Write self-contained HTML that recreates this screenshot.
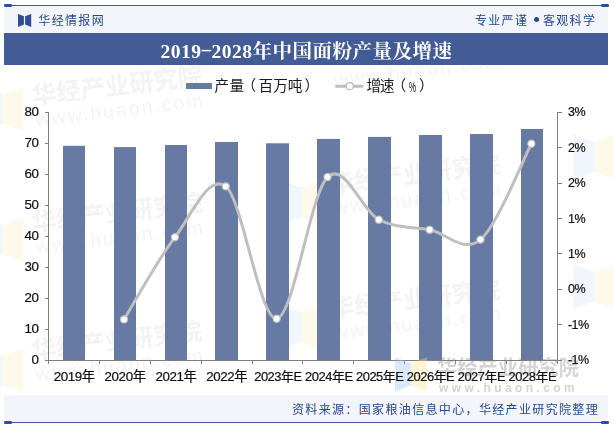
<!DOCTYPE html>
<html lang="zh"><head><meta charset="utf-8"><title>2019-2028年中国面粉产量及增速</title>
<style>
html,body{margin:0;padding:0;background:#fff}
body{width:614px;height:428px;position:relative;overflow:hidden;font-family:"Liberation Sans","Noto Sans CJK SC",sans-serif}
.abs{position:absolute}
.hdr{left:4px;top:5px;width:604px;height:28px;background:#f4f5fa}
.topline{left:4px;top:5px;width:605px;height:1px;background:#3f5a96}
.blk{width:8px;height:3px;background:#2f4f93;border-radius:1.2px}
.dash{display:inline-block;width:10px;text-align:center;font-weight:normal;position:relative;top:-3.5px;transform:scaleX(1.9)}
.title{left:4px;top:33px;width:604px;height:32px;background:#435c95;color:#fff;text-align:center;overflow:hidden;text-indent:1px;letter-spacing:0.5px;font:bold 19.5px/38.4px "Liberation Serif","Noto Serif CJK SC",serif;white-space:nowrap}
.brand{left:38.3px;top:11.2px;font-size:12px;line-height:20px;color:#27478d;letter-spacing:1.35px;white-space:nowrap}
.slogan.bul{font-size:19px !important;letter-spacing:0 !important;width:11px;text-align:center;top:10.1px !important}
.slogan{top:10.5px;font-size:12px;line-height:20px;color:#27478d;letter-spacing:1.3px;white-space:nowrap}
.ftr{left:4px;top:395px;width:604px;height:27px;background:#f4f5fa}
.src{left:292px;top:400.1px;font-size:12px;line-height:20px;color:#27478d;letter-spacing:1.35px;white-space:nowrap}
.yl{position:absolute;left:8px;width:30.5px;text-align:right;letter-spacing:-0.4px;font-size:13.33px;line-height:16px;color:#111;-webkit-text-stroke:0.22px #111}
.rl{position:absolute;left:568px;transform:scaleX(0.94);transform-origin:left center;letter-spacing:-0.6px;font-size:13.33px;line-height:16px;color:#111;-webkit-text-stroke:0.22px #111;white-space:nowrap}
.xl{position:absolute;top:368.8px;width:60px;text-align:center;letter-spacing:-0.4px;font-size:13.33px;line-height:16px;color:#111;-webkit-text-stroke:0.22px #111;white-space:nowrap}
.lgw{position:absolute;left:0;top:76.4px;height:20px}
.g{position:absolute;top:0;font-size:14.67px;line-height:20px;color:#1a1a1a;white-space:nowrap}
.pc{display:inline-block;transform:scaleX(0.57);top:0.6px}
.wm{position:absolute;color:#f1f1f1;font-weight:bold;white-space:nowrap;transform:rotate(-10deg);transform-origin:left top}
.wm2{position:absolute;color:#d4d4d4;font-weight:bold;white-space:nowrap}
</style></head><body><div id="root" style="position:absolute;left:0;top:0;width:614px;height:428px;will-change:transform">
<div class="abs hdr"></div>
<div class="abs topline"></div>
<div class="abs blk" style="left:4px;top:4px"></div>
<div class="abs blk" style="left:601px;top:4px"></div>
<svg class="abs" style="left:0;top:0" width="60" height="34" viewBox="0 0 60 34"><path d="M18,13.9 L23.9,16.3 V24.4 L18,27 Z M31.2,13.9 L25.1,16.3 V24.4 L31.2,27 Z" fill="#2e4d92"/></svg>
<div class="abs brand">华经情报网</div>
<div class="abs slogan" style="left:475px">专业严谨</div><div class="abs slogan bul" style="left:531px">•</div><div class="abs slogan" style="left:543px">客观科学</div>
<div class="abs title">2019<span class="dash">-</span>2028年中国面粉产量及增速</div>
<div class="wm2" style="left:437px;top:355px;font-size:20.3px;line-height:26px">华经产业研究院</div>
<div class="wm2" style="left:439px;top:380.7px;font-size:12px;line-height:14px;letter-spacing:3.4px">www.huaon.com</div>
<svg width="614" height="428" viewBox="0 0 614 428" style="position:absolute;left:0;top:0">
<defs><clipPath id="cp"><rect x="0" y="66" width="614" height="328"/></clipPath></defs><g clip-path="url(#cp)">
<g transform="translate(31.8,95.7) rotate(-6.7)" fill="#f3f3f3" font-family="Liberation Sans, Noto Sans CJK SC, sans-serif"><text x="0" y="8.6" font-size="24.5" font-weight="bold">华经产业研究院</text><text x="1" y="31" font-size="19.5" textLength="168" fill="#f4f4f4">www.huaon.com</text></g>
<g transform="translate(31.8,222.7) rotate(-6.7)" fill="#f3f3f3" font-family="Liberation Sans, Noto Sans CJK SC, sans-serif"><text x="0" y="8.6" font-size="24.5" font-weight="bold">华经产业研究院</text><text x="1" y="31" font-size="19.5" textLength="168" fill="#f4f4f4">www.huaon.com</text></g>
<g transform="translate(31.8,350.8) rotate(-6.7)" fill="#f3f3f3" font-family="Liberation Sans, Noto Sans CJK SC, sans-serif"><text x="0" y="8.6" font-size="24.5" font-weight="bold">华经产业研究院</text><text x="1" y="31" font-size="19.5" textLength="168" fill="#f4f4f4">www.huaon.com</text></g>
<g transform="translate(330.0,56.0) rotate(-6.7)" fill="#f3f3f3" font-family="Liberation Sans, Noto Sans CJK SC, sans-serif"><text x="0" y="8.6" font-size="24.5" font-weight="bold">华经产业研究院</text><text x="1" y="31" font-size="19.5" textLength="168" fill="#f4f4f4">www.huaon.com</text></g>
<g transform="translate(330.0,184.0) rotate(-6.7)" fill="#f3f3f3" font-family="Liberation Sans, Noto Sans CJK SC, sans-serif"><text x="0" y="8.6" font-size="24.5" font-weight="bold">华经产业研究院</text><text x="1" y="31" font-size="19.5" textLength="168" fill="#f4f4f4">www.huaon.com</text></g>
<g transform="translate(330.0,309.0) rotate(-6.7)" fill="#f3f3f3" font-family="Liberation Sans, Noto Sans CJK SC, sans-serif"><text x="0" y="8.6" font-size="24.5" font-weight="bold">华经产业研究院</text><text x="1" y="31" font-size="19.5" textLength="168" fill="#f4f4f4">www.huaon.com</text></g>
<path d="M-18.5,87.0 l21,7.5 v29.5 l-21,7.5 Z" fill="#dbe8fb" fill-opacity="0.38"/><path d="M23.5,87.0 l-21,7.5 v29.5 l21,7.5 Z" fill="#fef6d8" fill-opacity="0.5"/>
<path d="M-18.5,217.5 l21,7.5 v29.5 l-21,7.5 Z" fill="#dbe8fb" fill-opacity="0.38"/><path d="M23.5,217.5 l-21,7.5 v29.5 l21,7.5 Z" fill="#fef6d8" fill-opacity="0.5"/>
<path d="M-18.5,348.0 l21,7.5 v29.5 l-21,7.5 Z" fill="#dbe8fb" fill-opacity="0.38"/><path d="M23.5,348.0 l-21,7.5 v29.5 l21,7.5 Z" fill="#fef6d8" fill-opacity="0.5"/>
<path d="M280.0,180.0 l21,7.5 v29.5 l-21,7.5 Z" fill="#dbe8fb" fill-opacity="0.38"/><path d="M322.0,180.0 l-21,7.5 v29.5 l21,7.5 Z" fill="#fef6d8" fill-opacity="0.5"/>
<path d="M280.0,305.0 l21,7.5 v29.5 l-21,7.5 Z" fill="#dbe8fb" fill-opacity="0.38"/><path d="M322.0,305.0 l-21,7.5 v29.5 l21,7.5 Z" fill="#fef6d8" fill-opacity="0.5"/>
<path d="M573.7,134.5 l21,7.5 v29.5 l-21,7.5 Z" fill="#dbe8fb" fill-opacity="0.38"/><path d="M615.7,134.5 l-21,7.5 v29.5 l21,7.5 Z" fill="#fef6d8" fill-opacity="0.5"/>
<path d="M573.7,264.6 l21,7.5 v29.5 l-21,7.5 Z" fill="#dbe8fb" fill-opacity="0.38"/><path d="M615.7,264.6 l-21,7.5 v29.5 l21,7.5 Z" fill="#fef6d8" fill-opacity="0.5"/>
</g>
<rect x="63" y="145.80" width="22" height="214.20" fill="#667aa3"/>
<rect x="114" y="147.10" width="22" height="212.90" fill="#667aa3"/>
<rect x="165" y="145.00" width="22" height="215.00" fill="#667aa3"/>
<rect x="215" y="142.00" width="23" height="218.00" fill="#667aa3"/>
<rect x="266" y="143.30" width="23" height="216.70" fill="#667aa3"/>
<rect x="317" y="138.90" width="23" height="221.10" fill="#667aa3"/>
<rect x="368" y="136.90" width="23" height="223.10" fill="#667aa3"/>
<rect x="419" y="135.00" width="23" height="225.00" fill="#667aa3"/>
<rect x="470" y="134.00" width="23" height="226.00" fill="#667aa3"/>
<rect x="521" y="129.00" width="22" height="231.00" fill="#667aa3"/>
<g stroke="#7f7f7f" stroke-width="1" fill="none" shape-rendering="crispEdges">
<path d="M48.5,112.0 V360.5"/>
<path d="M557.5,112.0 V360.5"/>
<path d="M48.0,360.5 H557.5"/>
<path d="M44.5,112.5 H48.5"/>
<path d="M44.5,143.5 H48.5"/>
<path d="M44.5,174.5 H48.5"/>
<path d="M44.5,205.5 H48.5"/>
<path d="M44.5,236.5 H48.5"/>
<path d="M44.5,267.5 H48.5"/>
<path d="M44.5,298.5 H48.5"/>
<path d="M44.5,329.5 H48.5"/>
<path d="M44.5,360.5 H48.5"/>
<path d="M557.5,112.5 H561.5"/>
<path d="M557.5,147.5 H561.5"/>
<path d="M557.5,183.5 H561.5"/>
<path d="M557.5,218.5 H561.5"/>
<path d="M557.5,253.5 H561.5"/>
<path d="M557.5,289.5 H561.5"/>
<path d="M557.5,324.5 H561.5"/>
<path d="M557.5,360.5 H561.5"/>
<path d="M48.5,360.5 V363.5"/>
<path d="M99.5,360.5 V363.5"/>
<path d="M150.5,360.5 V363.5"/>
<path d="M201.5,360.5 V363.5"/>
<path d="M252.5,360.5 V363.5"/>
<path d="M302.5,360.5 V363.5"/>
<path d="M353.5,360.5 V363.5"/>
<path d="M404.5,360.5 V363.5"/>
<path d="M455.5,360.5 V363.5"/>
<path d="M506.5,360.5 V363.5"/>
<path d="M557.5,360.5 V363.5"/>
</g>
<path d="M124.00,319.40 C132.48,305.72 157.92,259.47 174.87,237.30 C191.83,215.13 208.79,172.83 225.74,186.40 C242.70,199.97 259.66,320.25 276.62,318.70 C293.57,317.15 310.46,193.60 327.49,177.10 C344.51,160.60 361.73,210.92 378.75,219.70 C395.78,228.48 412.67,226.48 429.62,229.80 C446.58,233.12 463.54,253.95 480.49,239.60 C497.45,225.25 522.89,159.68 531.36,143.70" fill="none" stroke="#bfbfbf" stroke-width="3" stroke-linecap="round" stroke-linejoin="round"/>
<circle cx="124.00" cy="319.40" r="3.6" fill="#fff" stroke="#bdbdbd" stroke-width="1.2"/>
<circle cx="174.87" cy="237.30" r="3.6" fill="#fff" stroke="#bdbdbd" stroke-width="1.2"/>
<circle cx="225.74" cy="186.40" r="3.6" fill="#fff" stroke="#bdbdbd" stroke-width="1.2"/>
<circle cx="276.62" cy="318.70" r="3.6" fill="#fff" stroke="#bdbdbd" stroke-width="1.2"/>
<circle cx="327.49" cy="177.10" r="3.6" fill="#fff" stroke="#bdbdbd" stroke-width="1.2"/>
<circle cx="378.75" cy="219.70" r="3.6" fill="#fff" stroke="#bdbdbd" stroke-width="1.2"/>
<circle cx="429.62" cy="229.80" r="3.6" fill="#fff" stroke="#bdbdbd" stroke-width="1.2"/>
<circle cx="480.49" cy="239.60" r="3.6" fill="#fff" stroke="#bdbdbd" stroke-width="1.2"/>
<circle cx="531.36" cy="143.70" r="3.6" fill="#fff" stroke="#bdbdbd" stroke-width="1.2"/>
<rect x="186" y="83" width="26" height="6" fill="#667aa3"/>
<path d="M336.5,86.2 H362" stroke="#bfbfbf" stroke-width="3" stroke-linecap="round"/>
<circle cx="349.8" cy="86.2" r="3.5" fill="#fff" stroke="#bdbdbd" stroke-width="1.2"/>
<path d="M395,357.2 L410.7,363 V385.5 L395,391.5 Z" fill="#9cc0f5" fill-opacity="0.36"/><path d="M426.8,357.2 L410.7,363 V385.5 L426.8,391.5 Z" fill="#fbe28c" fill-opacity="0.36"/>
</svg>
<div class="yl" style="top:104.4px">80</div><div class="yl" style="top:135.3px">70</div><div class="yl" style="top:166.3px">60</div><div class="yl" style="top:197.2px">50</div><div class="yl" style="top:228.2px">40</div><div class="yl" style="top:259.1px">30</div><div class="yl" style="top:290.1px">20</div><div class="yl" style="top:321.1px">10</div><div class="yl" style="top:352.0px">0</div>
<div class="rl" style="top:104.4px">3%</div><div class="rl" style="top:139.8px">2%</div><div class="rl" style="top:175.1px">2%</div><div class="rl" style="top:210.5px">1%</div><div class="rl" style="top:245.9px">1%</div><div class="rl" style="top:281.3px">0%</div><div class="rl" style="top:316.6px">-1%</div><div class="rl" style="top:352.0px">-1%</div>
<div class="xl" style="left:44.2px">2019年</div><div class="xl" style="left:95.1px">2020年</div><div class="xl" style="left:146.0px">2021年</div><div class="xl" style="left:196.8px">2022年</div><div class="xl" style="left:247.9px;letter-spacing:-0.45px;font-size:12.9px">2023年E</div><div class="xl" style="left:298.8px;letter-spacing:-0.45px;font-size:12.9px">2024年E</div><div class="xl" style="left:349.7px;letter-spacing:-0.45px;font-size:12.9px">2025年E</div><div class="xl" style="left:400.5px;letter-spacing:-0.45px;font-size:12.9px">2026年E</div><div class="xl" style="left:451.4px;letter-spacing:-0.45px;font-size:12.9px">2027年E</div><div class="xl" style="left:502.3px;letter-spacing:-0.45px;font-size:12.9px">2028年E</div>
<div class="lgw"><span class="g" style="left:214.54px">产</span><span class="g" style="left:229.49px">量</span><span class="g" style="left:241.57px">（</span><span class="g" style="left:258.47px">百</span><span class="g" style="left:273.26px">万</span><span class="g" style="left:287.84px">吨</span><span class="g" style="left:304.56px">）</span></div><div class="lgw"><span class="g" style="left:366.58px">增</span><span class="g" style="left:379.81px">速</span><span class="g" style="left:391.47px">（</span><span class="g pc" style="left:405.85px">%</span><span class="g" style="left:418.91px">）</span></div>
<div class="abs ftr"></div>
<div class="abs" style="left:4px;top:422px;width:605px;height:1px;background:#3f5a96"></div>
<div class="abs blk" style="left:4px;top:421px"></div>
<div class="abs blk" style="left:601px;top:421px"></div>
<div class="abs src">资料来源：国家粮油信息中心，华经产业研究院整理</div>
</div></body></html>
